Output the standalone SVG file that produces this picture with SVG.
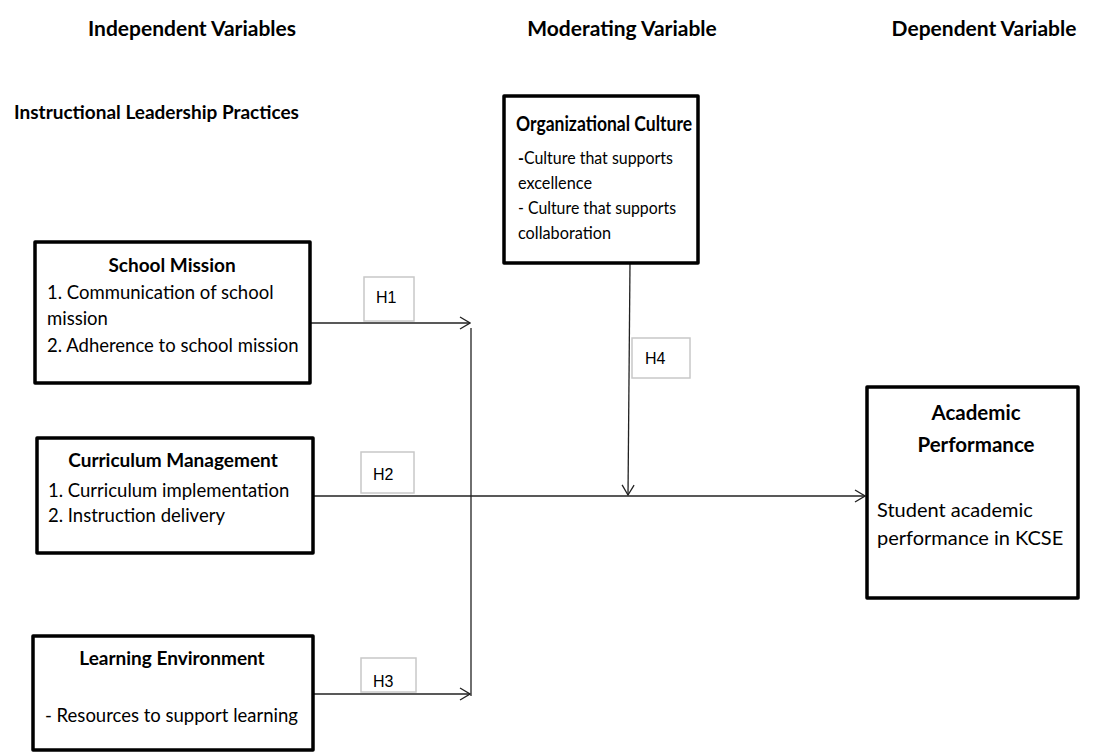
<svg xmlns="http://www.w3.org/2000/svg" width="1109" height="752" viewBox="0 0 1109 752">
<style>
text{font-family:Lato,"Open Sans","Liberation Sans",sans-serif;fill:#000}
.hd{font-size:21px;font-weight:bold}
.tt{font-size:19px;font-weight:bold}
.bd{font-size:18.5px}
.ob{font-size:17.3px}
.ot{font-size:20.5px;font-weight:bold}
.big{font-size:20px}
.bigb{font-size:20.5px;font-weight:bold}
.box{fill:#fff;stroke:#000;stroke-width:3.5;stroke-linejoin:round}
.hb{fill:#fff;stroke:#c8c8c8;stroke-width:1.5}
.hl{font-family:"Liberation Sans",Arial,sans-serif;font-size:16px}
.cn{stroke:#222;stroke-width:1.3;fill:none}
</style>
<defs>
<marker id="ar" viewBox="0 0 12 14" refX="11" refY="7" markerWidth="12" markerHeight="14" markerUnits="userSpaceOnUse" orient="auto">
<path d="M1,1 L11,7 L1,13" fill="none" stroke="#222" stroke-width="1.3"/>
</marker>
</defs>
<rect width="1109" height="752" fill="#fff"/>
<g id="headers">
<text class="hd" x="192" y="36" text-anchor="middle">Independent Variables</text>
<text class="hd" x="622" y="36" text-anchor="middle">Moderating Variable</text>
<text class="hd" x="984" y="36" text-anchor="middle">Dependent Variable</text>
<text class="tt" x="14" y="119">Instructional Leadership Practices</text>
</g>
<g id="connectors">
<line class="cn" x1="310" y1="323" x2="470" y2="323" marker-end="url(#ar)"/>
<line class="cn" x1="471" y1="328" x2="471" y2="696"/>
<line class="cn" x1="313" y1="694" x2="470" y2="694" marker-end="url(#ar)"/>
<line class="cn" x1="313" y1="496" x2="865" y2="496" marker-end="url(#ar)"/>
<line class="cn" x1="630" y1="263" x2="628" y2="495" marker-end="url(#ar)"/>
</g>
<g id="h1"><rect class="hb" x="364" y="277" width="50" height="44"/><text class="hl" x="376" y="303">H1</text></g>
<g id="h2"><rect class="hb" x="361" y="452" width="53" height="41"/><text class="hl" x="373" y="480">H2</text></g>
<g id="h3"><rect class="hb" x="361" y="658" width="55" height="34"/><text class="hl" x="373" y="687">H3</text></g>
<g id="h4"><rect class="hb" x="632" y="338" width="58" height="40"/><text class="hl" x="645" y="364">H4</text></g>
<g id="org-culture">
<rect class="box" x="504" y="96" width="194" height="167"/>
<text class="ot" x="516" y="131" textLength="176" lengthAdjust="spacingAndGlyphs">Organizational Culture</text>
<text class="ob" x="518" y="164" textLength="155" lengthAdjust="spacingAndGlyphs"><tspan font-weight="bold">-</tspan>Culture that supports</text>
<text class="ob" x="518" y="189" textLength="74" lengthAdjust="spacingAndGlyphs">excellence</text>
<text class="ob" x="518" y="214" textLength="158" lengthAdjust="spacingAndGlyphs">- Culture that supports</text>
<text class="ob" x="518" y="239" textLength="93" lengthAdjust="spacingAndGlyphs">collaboration</text>
</g>
<g id="school-mission">
<rect class="box" x="35" y="242" width="275" height="141"/>
<text class="tt" x="172" y="272" text-anchor="middle">School Mission</text>
<text class="bd" x="47" y="299">1. Communication of school</text>
<text class="bd" x="47" y="325">mission</text>
<text class="bd" x="47" y="352">2. Adherence to school mission</text>
</g>
<g id="curriculum">
<rect class="box" x="37" y="438" width="276" height="115"/>
<text class="tt" x="173" y="467" text-anchor="middle">Curriculum Management</text>
<text class="bd" x="48" y="497">1. Curriculum implementation</text>
<text class="bd" x="48" y="522">2. Instruction delivery</text>
</g>
<g id="learning-env">
<rect class="box" x="33" y="636" width="280" height="114"/>
<text class="tt" x="172" y="665" text-anchor="middle">Learning Environment</text>
<text class="bd" x="45" y="722">- Resources to support learning</text>
</g>
<g id="academic">
<rect class="box" x="867" y="387" width="211" height="211"/>
<text class="bigb" x="976" y="420" text-anchor="middle">Academic</text>
<text class="bigb" x="976" y="452" text-anchor="middle">Performance</text>
<text class="big" x="877" y="517">Student academic</text>
<text class="big" x="877" y="545">performance in KCSE</text>
</g>
</svg>
